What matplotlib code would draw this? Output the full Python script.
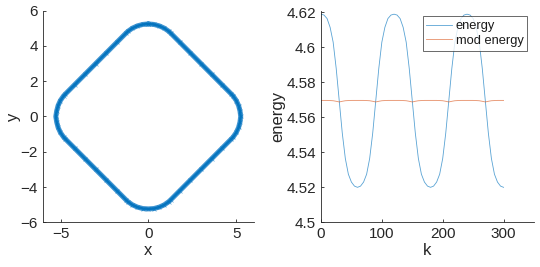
import matplotlib
matplotlib.use("Agg")
import matplotlib.pyplot as plt

plt.rcParams['font.family'] = ['Liberation Sans', 'DejaVu Sans']

# ---- left panel: trajectory (x, y) ----
traj_x = [0.0, 0.314, 0.619, 0.905, 1.163, 1.28, 1.8, 2.4, 3.0, 3.6, 4.2, 4.72,
          4.83, 5.01, 5.14, 5.22, 5.26,
          5.22, 5.14, 5.01, 4.83, 4.72, 4.2, 3.6, 3.0, 2.4, 1.8, 1.28,
          1.163, 0.905, 0.619, 0.314, 0.0,
          -0.314, -0.619, -0.905, -1.163, -1.28, -1.8, -2.4, -3.0, -3.6, -4.2, -4.72,
          -4.83, -5.01, -5.14, -5.22, -5.27,
          -5.22, -5.14, -5.01, -4.83, -4.72, -4.2, -3.6, -3.0, -2.4, -1.8, -1.28,
          -1.163, -0.905, -0.619, -0.314, 0.0]
traj_y = [5.25, 5.22, 5.14, 5.01, 4.83, 4.72, 4.2, 3.6, 3.0, 2.4, 1.8, 1.28,
          1.163, 0.905, 0.619, 0.314, 0.0,
          -0.314, -0.619, -0.905, -1.163, -1.28, -1.8, -2.4, -3.0, -3.6, -4.2, -4.72,
          -4.83, -5.01, -5.14, -5.22, -5.24,
          -5.22, -5.14, -5.01, -4.83, -4.72, -4.2, -3.6, -3.0, -2.4, -1.8, -1.28,
          -1.163, -0.905, -0.619, -0.314, 0.0,
          0.314, 0.619, 0.905, 1.163, 1.28, 1.8, 2.4, 3.0, 3.6, 4.2, 4.72,
          4.83, 5.01, 5.14, 5.22, 5.25]

# ---- right panel: energies vs k ----
k_vals = list(range(0, 301, 5))
energy = [4.6190, 4.6185, 4.6165, 4.6115, 4.6030, 4.5880, 4.5695, 4.5510, 4.5365, 4.5275, 4.5230, 4.5207, 4.5200,
          4.5207, 4.5230, 4.5275, 4.5365, 4.5510, 4.5695, 4.5880, 4.6030, 4.6115, 4.6165, 4.6185, 4.6190,
          4.6185, 4.6165, 4.6115, 4.6030, 4.5880, 4.5695, 4.5510, 4.5365, 4.5275, 4.5230, 4.5207, 4.5200,
          4.5207, 4.5230, 4.5275, 4.5365, 4.5510, 4.5695, 4.5880, 4.6030, 4.6115, 4.6165, 4.6185, 4.6190,
          4.6185, 4.6165, 4.6115, 4.6030, 4.5880, 4.5695, 4.5510, 4.5365, 4.5275, 4.5230, 4.5207, 4.5200]
mod_energy = [4.5697, 4.5697, 4.5697, 4.5696, 4.5695, 4.5692, 4.5688, 4.5692, 4.5695, 4.5696, 4.5697, 4.5697,
              4.5697, 4.5697, 4.5697, 4.5696, 4.5695, 4.5692, 4.5688, 4.5692, 4.5695, 4.5696, 4.5697, 4.5697,
              4.5697, 4.5697, 4.5697, 4.5696, 4.5695, 4.5692, 4.5688, 4.5692, 4.5695, 4.5696, 4.5697, 4.5697,
              4.5697, 4.5697, 4.5697, 4.5696, 4.5695, 4.5692, 4.5688, 4.5692, 4.5695, 4.5696, 4.5697, 4.5697,
              4.5697, 4.5697, 4.5697, 4.5696, 4.5695, 4.5692, 4.5688, 4.5692, 4.5695, 4.5696, 4.5697, 4.5697,
              4.5697]

left_xticks = [-5, 0, 5]
left_yticks = [-6, -4, -2, 0, 2, 4, 6]
right_xticks = [0, 100, 200, 300]
right_yticks = [4.5, 4.52, 4.54, 4.56, 4.58, 4.6, 4.62]
right_yticklabels = ['4.5', '4.52', '4.54', '4.56', '4.58', '4.6', '4.62']

blue = (0.0, 0.447, 0.741)
orange = (0.85, 0.325, 0.098)
axcol = (0.15, 0.15, 0.15)

fig = plt.figure(figsize=(5.4, 2.67), dpi=100)
ax1 = fig.add_axes([0.0796, 0.1674, 0.3902, 0.7926])
ax2 = fig.add_axes([0.5944, 0.1674, 0.3945, 0.7926])

for ax in (ax1, ax2):
    for s in ('top', 'right'):
        ax.spines[s].set_visible(False)
    for s in ('left', 'bottom'):
        ax.spines[s].set_color(axcol)
        ax.spines[s].set_linewidth(0.6)
    ax.tick_params(direction='in', length=2.5, width=0.6, colors=axcol,
                   labelsize=11, labelcolor=axcol)

ax1.plot(traj_x, traj_y, '-', color=(0.25, 0.58, 0.82), lw=3.6, solid_capstyle='round')
ax1.plot(traj_x, traj_y, '-', color=blue, lw=1.8, alpha=0.9, solid_capstyle='round')
ax1.plot(traj_x, traj_y, 'x', color=blue, ms=2.5, mew=0.6, alpha=0.5)
ax1.set_xlim(-6, 6)
ax1.set_ylim(-6, 6)
ax1.set_xticks(left_xticks)
ax1.set_yticks(left_yticks)
ax1.set_xlabel('x', fontsize=12, color=axcol, labelpad=1)
ax1.set_ylabel('y', fontsize=12, color=axcol, labelpad=0)

ax2.plot(k_vals, energy, color=blue, lw=0.6, alpha=0.65, label='energy')
ax2.plot(k_vals, mod_energy, color=orange, lw=0.6, alpha=0.65, label='mod energy')
ax2.set_xlim(0, 350)
ax2.set_ylim(4.5, 4.621)
ax2.set_xticks(right_xticks)
ax2.set_yticks(right_yticks)
ax2.set_yticklabels(right_yticklabels)
ax2.set_xlabel('k', fontsize=12, color=axcol, labelpad=1)
ax2.set_ylabel('energy', fontsize=12, color=axcol, labelpad=1)
leg = ax2.legend(loc='upper right', bbox_to_anchor=(0.9685, 0.9735), borderaxespad=0,
                 fontsize=9.3, frameon=True, fancybox=False, handlelength=2.0,
                 borderpad=0.3, labelspacing=0.2, handletextpad=0.25)
leg.get_frame().set_edgecolor(axcol)
leg.get_frame().set_linewidth(0.6)
for t in leg.get_texts():
    t.set_color((0.1, 0.1, 0.1))

fig.savefig('out.png', dpi=100)
